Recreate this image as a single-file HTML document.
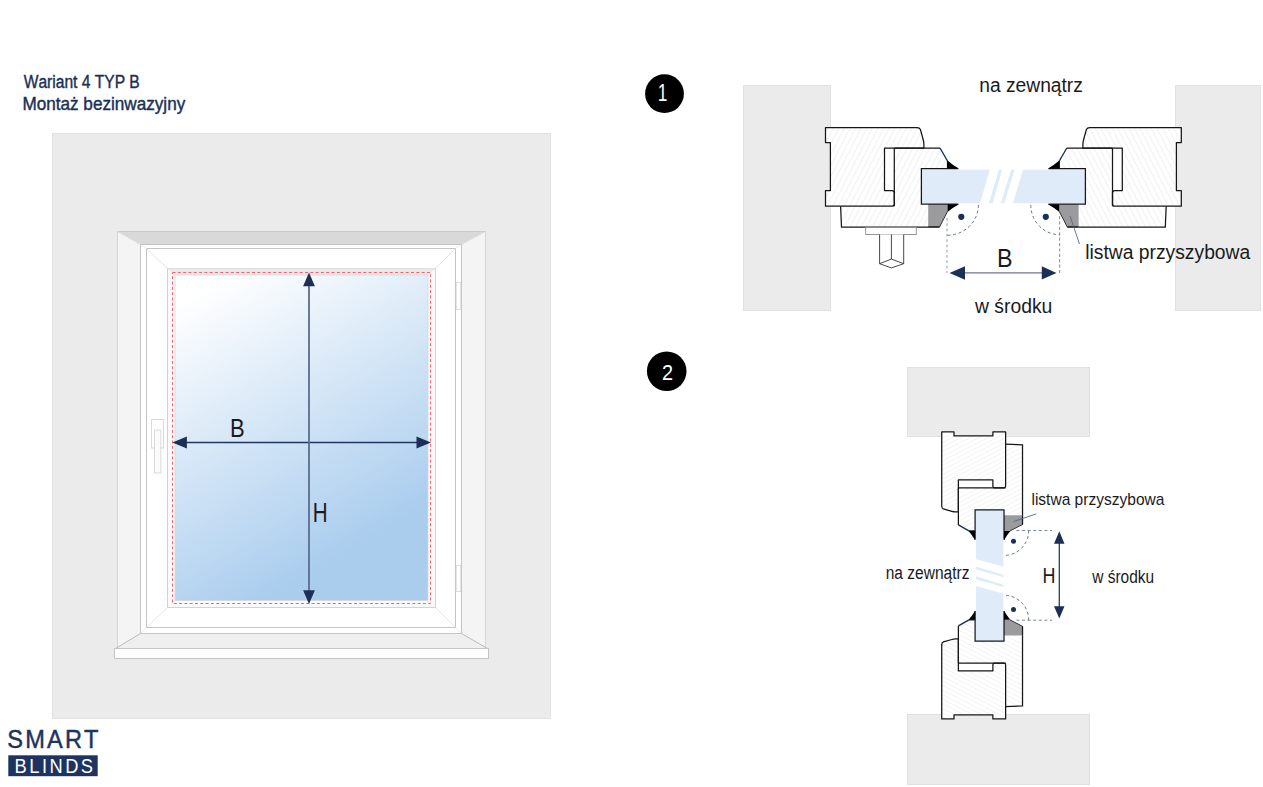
<!DOCTYPE html>
<html><head><meta charset="utf-8"><style>
html,body{margin:0;padding:0;background:#fff;}
body{width:1263px;height:787px;overflow:hidden;position:relative;}
svg{position:absolute;left:0;top:0;}
text{font-family:"Liberation Sans",sans-serif;}
.th{}
</style></head><body>
<svg width="1263" height="787" viewBox="0 0 1263 787">
<defs>
<pattern id="h1" patternUnits="userSpaceOnUse" width="5" height="10" patternTransform="rotate(27)">
<line x1="0.5" y1="0" x2="0.5" y2="10" stroke="#eeeeee" stroke-width="0.8"/>
</pattern>
<linearGradient id="glassg" x1="188.7" y1="297.6" x2="339.3" y2="554.4" gradientUnits="userSpaceOnUse">
<stop offset="0" stop-color="#ffffff"/>
<stop offset="1" stop-color="#aacdee"/>
</linearGradient>
</defs>

<text transform="translate(23.73,87.90) scale(0.8864,1)" x="0" y="0" font-size="17.59" font-family="Liberation Sans" fill="#1c2f55" style="font-kerning:none" stroke="#1c2f55" stroke-width="0.4">Wariant 4 TYP B</text>
<text transform="translate(22.39,109.70) scale(0.9748,1)" x="0" y="0" font-size="17.59" font-family="Liberation Sans" fill="#1c2f55" style="font-kerning:none" stroke="#1c2f55" stroke-width="0.4">Montaż bezinwazyjny</text>
<rect x="52.5" y="133.5" width="498" height="585" fill="#ebebeb" stroke="#e2e2e2" stroke-width="1"/>
<rect x="117.5" y="231.5" width="368" height="417" fill="#f4f4f4" stroke="#d6d6d6" stroke-width="1"/>
<path d="M117.5,231.5 H485.5 L461.5,244.5 H140.5 Z" fill="#d9d9d9"/>
<path d="M115.5,648.5 H487.5 L461.5,633.5 H140.5 Z" fill="#efefef"/>
<path d="M117.5,231.5 L140.5,244.5 M485.5,231.5 L461.5,244.5" stroke="#d4d4d4" stroke-width="0.5" fill="none"/>
<path d="M115.5,648.5 L140.5,633.5 M487.5,648.5 L461.5,633.5" stroke="#ababab" stroke-width="0.8" fill="none"/>
<path d="M117.5,231.5 H485.5" stroke="#cbcbcb" stroke-width="1"/>
<rect x="140.5" y="244.5" width="321" height="389" fill="#fff" stroke="#c4c4c4" stroke-width="1"/>
<rect x="146.5" y="248.5" width="309" height="379" fill="#fff" stroke="#c4c4c4" stroke-width="1"/>
<path d="M140.5,244.5 L146.5,248.5 M461.5,244.5 L455.5,248.5 M140.5,633.5 L146.5,627.5 M461.5,633.5 L455.5,627.5" stroke="#e0e0e0" stroke-width="0.6" fill="none"/>
<path d="M146.5,248.5 L167.5,268.5 M455.5,248.5 L435.5,268.5 M146.5,627.5 L167.5,607.5 M455.5,627.5 L435.5,607.5" stroke="#dedede" stroke-width="0.8" fill="none"/>
<rect x="167.5" y="268.5" width="268" height="339" fill="#fafafa" stroke="#d2d2d2" stroke-width="1"/>
<path d="M167.5,268.5 H435.5 L428,275 H175 Z" fill="#e9e9e9"/>
<rect x="175" y="275" width="253" height="325.5" fill="url(#glassg)" stroke="#d8d8d8" stroke-width="0.8"/>
<rect x="172.5" y="272.5" width="258" height="331" fill="none" stroke="#ef6570" stroke-width="1" stroke-dasharray="3 2.3"/>
<rect x="456.2" y="282.3" width="4.6" height="27.2" fill="#fff" stroke="#d4d4d4" stroke-width="0.8"/>
<rect x="456.2" y="565.4" width="4.6" height="26.2" fill="#fff" stroke="#d4d4d4" stroke-width="0.8"/>
<rect x="151.5" y="419.5" width="12" height="28.5" fill="none" stroke="#d8d8d8" stroke-width="0.9"/>
<rect x="154.5" y="430" width="6.3" height="43" fill="#fbfbfb" stroke="#d8d8d8" stroke-width="0.9"/>
<rect x="114.5" y="648.5" width="374" height="10" fill="#fff" stroke="#c4c4c4" stroke-width="1"/>
<line x1="185" y1="442.5" x2="418" y2="442.5" stroke="#22365e" stroke-width="1.6"/>
<path d="M172.4,442.5 L186.9,436.6 V448.4 Z" fill="#1b2f57"/>
<path d="M431,442.5 L416.5,436.6 V448.4 Z" fill="#1b2f57"/>
<line x1="309" y1="285" x2="309" y2="591" stroke="#5b6d8c" stroke-width="1.8"/>
<path d="M309,272.6 L303.1,286.3 H314.9 Z" fill="#1b2f57"/>
<path d="M309,604 L303.1,590.3 H314.9 Z" fill="#1b2f57"/>
<text transform="translate(230.10,436.70) scale(0.8265,1)" x="0" y="0" font-size="26.60" font-family="Liberation Sans" fill="#1a1a1a" style="font-kerning:none" >B</text>
<text transform="translate(312.81,521.60) scale(0.7615,1)" x="0" y="0" font-size="27.04" font-family="Liberation Sans" fill="#1a1a1a" style="font-kerning:none" >H</text>
<text transform="translate(7.23,748.00) scale(0.9500,1)" x="0" y="0" font-size="24.86" font-family="Liberation Sans" fill="#1d3461" style="font-kerning:none" stroke="#1d3461" stroke-width="0.45" letter-spacing="2.28">SMART</text>
<rect x="8.3" y="755.3" width="89.4" height="20.9" fill="#1d3461"/>
<text transform="translate(14.60,772.90) scale(0.9200,1)" x="0" y="0" font-size="19.91" font-family="Liberation Sans" fill="#fff" style="font-kerning:none"  letter-spacing="2.67">BLINDS</text>
<circle cx="664.5" cy="93.7" r="19.4" fill="#000"/>
<text transform="translate(657.85,101.10) scale(0.7171,1)" x="0" y="0" font-size="24.14" font-family="Liberation Mono" fill="#fff" style="font-kerning:none" >1</text>
<rect x="743.5" y="85.5" width="87" height="225" fill="#ebebeb" stroke="#e0e0e0" stroke-width="1"/>
<rect x="1175.5" y="85.5" width="85" height="225" fill="#ebebeb" stroke="#e0e0e0" stroke-width="1"/>
<g><path d="M825.5,127.5 H917 Q919.6,127.5 920.4,129.5 L923.3,140 Q923.9,142.3 923.9,144.5 V148 H884.5 V190.5 H892 Q894.3,190.5 894.3,193 V204 Q894.3,206.2 892,206.2 H825.5 V190.5 H830.4 V142.6 H825.5 Z" fill="#fff"/>
<path d="M825.5,127.5 H917 Q919.6,127.5 920.4,129.5 L923.3,140 Q923.9,142.3 923.9,144.5 V148 H884.5 V190.5 H892 Q894.3,190.5 894.3,193 V204 Q894.3,206.2 892,206.2 H825.5 V190.5 H830.4 V142.6 H825.5 Z" fill="url(#h1)"/>
<path d="M894.3,148 H940 L947.5,161 V168.6 H921.4 V204.2 H928.2 V227 H841.5 L840.6,206.2 H894.3 Z" fill="#fff"/>
<path d="M894.3,148 H940 L947.5,161 V168.6 H921.4 V204.2 H928.2 V227 H841.5 L840.6,206.2 H894.3 Z" fill="url(#h1)"/>
<path d="M825.5,127.5 H917 Q919.6,127.5 920.4,129.5 L923.3,140 Q923.9,142.3 923.9,144.5 V148 H884.5 V190.5 H892 Q894.3,190.5 894.3,193 V204 Q894.3,206.2 892,206.2 H825.5 V190.5 H830.4 V142.6 H825.5 Z" fill="none" stroke="#161616" stroke-width="1.25" stroke-linejoin="round" vector-effect="non-scaling-stroke"/>
<path d="M894.3,148 H940 M947.5,161 V168.6 M928.2,227 H841.5 L840.6,206.2 M894.3,148 V206.2" fill="none" stroke="#161616" stroke-width="1.25" vector-effect="non-scaling-stroke"/>
<path d="M940,148 L947.5,161" stroke="#1b2f57" stroke-width="1.4" fill="none" vector-effect="non-scaling-stroke"/>
<path d="M928.2,204.2 H947.5 V211.5 L939.5,227 H928.2 Z" fill="#9b9b9d"/>
<path d="M947.5,211.5 L939.5,227 H928.2" fill="none" stroke="#333" stroke-width="1" vector-effect="non-scaling-stroke"/>
<path d="M928.2,227 H939.5" fill="none" stroke="#161616" stroke-width="1.25" vector-effect="non-scaling-stroke"/>
<rect x="921.4" y="169.7" width="82" height="33.5" fill="#dfebf8"/>
<path d="M958.3,168.6 H921.4 V204.2 H958.3" fill="none" stroke="#161616" stroke-width="1.25" vector-effect="non-scaling-stroke"/>
<path d="M947.5,160.5 Q952.6,165 958.8,168.6 H947.5 Z" fill="#000"/>
<path d="M947.5,204.2 H959 Q952.6,207.6 947.5,212 Z" fill="#000"/>
<rect x="865.7" y="227.6" width="50.6" height="6.9" fill="#fff" stroke="#8a8a8a" stroke-width="0.9"/>
<path d="M879.6,234.5 V263.7 L891.4,259.1 L903.7,263.7 V234.5 M891.4,234.5 V259.1 M879.6,263.7 L891.4,267.9 L903.7,263.7" fill="#fff" stroke="#333" stroke-width="0.9" stroke-linejoin="round"/></g>
<g transform="matrix(-1,0,0,1,2006.8,0)"><path d="M825.5,127.5 H917 Q919.6,127.5 920.4,129.5 L923.3,140 Q923.9,142.3 923.9,144.5 V148 H884.5 V190.5 H892 Q894.3,190.5 894.3,193 V204 Q894.3,206.2 892,206.2 H825.5 V190.5 H830.4 V142.6 H825.5 Z" fill="#fff"/>
<path d="M825.5,127.5 H917 Q919.6,127.5 920.4,129.5 L923.3,140 Q923.9,142.3 923.9,144.5 V148 H884.5 V190.5 H892 Q894.3,190.5 894.3,193 V204 Q894.3,206.2 892,206.2 H825.5 V190.5 H830.4 V142.6 H825.5 Z" fill="url(#h1)"/>
<path d="M894.3,148 H940 L947.5,161 V168.6 H921.4 V204.2 H928.2 V227 H841.5 L840.6,206.2 H894.3 Z" fill="#fff"/>
<path d="M894.3,148 H940 L947.5,161 V168.6 H921.4 V204.2 H928.2 V227 H841.5 L840.6,206.2 H894.3 Z" fill="url(#h1)"/>
<path d="M825.5,127.5 H917 Q919.6,127.5 920.4,129.5 L923.3,140 Q923.9,142.3 923.9,144.5 V148 H884.5 V190.5 H892 Q894.3,190.5 894.3,193 V204 Q894.3,206.2 892,206.2 H825.5 V190.5 H830.4 V142.6 H825.5 Z" fill="none" stroke="#161616" stroke-width="1.25" stroke-linejoin="round" vector-effect="non-scaling-stroke"/>
<path d="M894.3,148 H940 M947.5,161 V168.6 M928.2,227 H841.5 L840.6,206.2 M894.3,148 V206.2" fill="none" stroke="#161616" stroke-width="1.25" vector-effect="non-scaling-stroke"/>
<path d="M940,148 L947.5,161" stroke="#1b2f57" stroke-width="1.4" fill="none" vector-effect="non-scaling-stroke"/>
<path d="M928.2,204.2 H947.5 V211.5 L939.5,227 H928.2 Z" fill="#9b9b9d"/>
<path d="M947.5,211.5 L939.5,227 H928.2" fill="none" stroke="#333" stroke-width="1" vector-effect="non-scaling-stroke"/>
<path d="M928.2,227 H939.5" fill="none" stroke="#161616" stroke-width="1.25" vector-effect="non-scaling-stroke"/>
<rect x="921.4" y="169.7" width="82" height="33.5" fill="#dfebf8"/>
<path d="M958.3,168.6 H921.4 V204.2 H958.3" fill="none" stroke="#161616" stroke-width="1.25" vector-effect="non-scaling-stroke"/>
<path d="M947.5,160.5 Q952.6,165 958.8,168.6 H947.5 Z" fill="#000"/>
<path d="M947.5,204.2 H959 Q952.6,207.6 947.5,212 Z" fill="#000"/></g>
<path d="M990,169 L999.1,169 L988.6,204 L979.9,204 Z M1002.3,169 L1011.4,169 L1000.5,204 L992.5,204 Z M1014.9,169 L1023.2,169 L1012.8,204 L1004,204 Z" fill="#fff"/>
<path d="M947,218 V273" stroke="#b9c0cd" stroke-width="1.6" stroke-dasharray="2.7 2.6" fill="none"/>
<path d="M1059.6,216 V273" stroke="#8c95ab" stroke-width="1.1" stroke-dasharray="3.2 2.2" fill="none"/>
<path d="M978.4,205 A31.4,30.3 0 0 1 947,235.3 M1030.8,205 A28.6,29.6 0 0 0 1059.4,234.6" stroke="#56648a" stroke-width="0.9" stroke-dasharray="3 2.6" fill="none"/>
<circle cx="961.3" cy="216.8" r="3.1" fill="#1b2f57"/><circle cx="1045.8" cy="216.8" r="3.1" fill="#1b2f57"/>
<line x1="960" y1="272.9" x2="1045" y2="272.9" stroke="#6b7693" stroke-width="1.4"/>
<path d="M949.5,272.9 L965,266.2 V279.7 Z M1056.5,272.9 L1041.8,266.3 V279.5 Z" fill="#1b2f57"/>
<path d="M1070,216 L1079.5,244" stroke="#56678a" stroke-width="0.9" fill="none"/>
<text transform="translate(979.22,91.60) scale(0.9241,1)" x="0" y="0" font-size="20.82" font-family="Liberation Sans" fill="#1a1a1a" style="font-kerning:none" >na zewnątrz</text>
<text transform="translate(975.03,312.60) scale(0.9728,1)" x="0" y="0" font-size="19.87" font-family="Liberation Sans" fill="#1a1a1a" style="font-kerning:none" >w środku</text>
<text transform="translate(996.89,266.60) scale(0.8759,1)" x="0" y="0" font-size="26.60" font-family="Liberation Sans" fill="#1a1a1a" style="font-kerning:none" >B</text>
<text transform="translate(1085.20,258.70) scale(0.9575,1)" x="0" y="0" font-size="20.15" font-family="Liberation Sans" fill="#1a1a1a" style="font-kerning:none" >listwa przyszybowa</text>
<circle cx="666.7" cy="371.2" r="19.8" fill="#000"/>
<text transform="translate(662.00,379.80) scale(0.8772,1)" x="0" y="0" font-size="22.77" font-family="Liberation Sans" fill="#fff" style="font-kerning:none" >2</text>
<rect x="907.5" y="367.5" width="182" height="69" fill="#ebebeb" stroke="#e0e0e0" stroke-width="1"/>
<rect x="907.5" y="714.5" width="182" height="70" fill="#ebebeb" stroke="#e0e0e0" stroke-width="1"/>
<rect x="976" y="510" width="27.2" height="131" fill="#dfebf8"/>
<g transform="matrix(0,0.812,0.812,0,838.2,-238.4)"><path d="M825.5,127.5 H917 Q919.6,127.5 920.4,129.5 L923.3,140 Q923.9,142.3 923.9,144.5 V148 H884.5 V190.5 H892 Q894.3,190.5 894.3,193 V204 Q894.3,206.2 892,206.2 H825.5 V190.5 H830.4 V142.6 H825.5 Z" fill="#fff"/>
<path d="M825.5,127.5 H917 Q919.6,127.5 920.4,129.5 L923.3,140 Q923.9,142.3 923.9,144.5 V148 H884.5 V190.5 H892 Q894.3,190.5 894.3,193 V204 Q894.3,206.2 892,206.2 H825.5 V190.5 H830.4 V142.6 H825.5 Z" fill="url(#h1)"/>
<path d="M894.3,148 H940 L947.5,161 V168.6 H921.4 V204.2 H928.2 V227 H841.5 L840.6,206.2 H894.3 Z" fill="#fff"/>
<path d="M894.3,148 H940 L947.5,161 V168.6 H921.4 V204.2 H928.2 V227 H841.5 L840.6,206.2 H894.3 Z" fill="url(#h1)"/>
<path d="M825.5,127.5 H917 Q919.6,127.5 920.4,129.5 L923.3,140 Q923.9,142.3 923.9,144.5 V148 H884.5 V190.5 H892 Q894.3,190.5 894.3,193 V204 Q894.3,206.2 892,206.2 H825.5 V190.5 H830.4 V142.6 H825.5 Z" fill="none" stroke="#161616" stroke-width="1.25" stroke-linejoin="round" vector-effect="non-scaling-stroke"/>
<path d="M894.3,148 H940 M947.5,161 V168.6 M928.2,227 H841.5 L840.6,206.2 M894.3,148 V206.2" fill="none" stroke="#161616" stroke-width="1.25" vector-effect="non-scaling-stroke"/>
<path d="M940,148 L947.5,161" stroke="#1b2f57" stroke-width="1.4" fill="none" vector-effect="non-scaling-stroke"/>
<path d="M928.2,204.2 H947.5 V211.5 L939.5,227 H928.2 Z" fill="#9b9b9d"/>
<path d="M947.5,211.5 L939.5,227 H928.2" fill="none" stroke="#333" stroke-width="1" vector-effect="non-scaling-stroke"/>
<path d="M928.2,227 H939.5" fill="none" stroke="#161616" stroke-width="1.25" vector-effect="non-scaling-stroke"/>
<rect x="921.4" y="169.7" width="82" height="33.5" fill="#dfebf8"/>
<path d="M958.3,168.6 H921.4 V204.2 H958.3" fill="none" stroke="#161616" stroke-width="1.25" vector-effect="non-scaling-stroke"/>
<path d="M947.5,160.5 Q952.6,165 958.8,168.6 H947.5 Z" fill="#000"/>
<path d="M947.5,204.2 H959 Q952.6,207.6 947.5,212 Z" fill="#000"/></g>
<g transform="matrix(0,-0.812,0.812,0,838.2,1389.2)"><path d="M825.5,127.5 H917 Q919.6,127.5 920.4,129.5 L923.3,140 Q923.9,142.3 923.9,144.5 V148 H884.5 V190.5 H892 Q894.3,190.5 894.3,193 V204 Q894.3,206.2 892,206.2 H825.5 V190.5 H830.4 V142.6 H825.5 Z" fill="#fff"/>
<path d="M825.5,127.5 H917 Q919.6,127.5 920.4,129.5 L923.3,140 Q923.9,142.3 923.9,144.5 V148 H884.5 V190.5 H892 Q894.3,190.5 894.3,193 V204 Q894.3,206.2 892,206.2 H825.5 V190.5 H830.4 V142.6 H825.5 Z" fill="url(#h1)"/>
<path d="M894.3,148 H940 L947.5,161 V168.6 H921.4 V204.2 H928.2 V227 H841.5 L840.6,206.2 H894.3 Z" fill="#fff"/>
<path d="M894.3,148 H940 L947.5,161 V168.6 H921.4 V204.2 H928.2 V227 H841.5 L840.6,206.2 H894.3 Z" fill="url(#h1)"/>
<path d="M825.5,127.5 H917 Q919.6,127.5 920.4,129.5 L923.3,140 Q923.9,142.3 923.9,144.5 V148 H884.5 V190.5 H892 Q894.3,190.5 894.3,193 V204 Q894.3,206.2 892,206.2 H825.5 V190.5 H830.4 V142.6 H825.5 Z" fill="none" stroke="#161616" stroke-width="1.25" stroke-linejoin="round" vector-effect="non-scaling-stroke"/>
<path d="M894.3,148 H940 M947.5,161 V168.6 M928.2,227 H841.5 L840.6,206.2 M894.3,148 V206.2" fill="none" stroke="#161616" stroke-width="1.25" vector-effect="non-scaling-stroke"/>
<path d="M940,148 L947.5,161" stroke="#1b2f57" stroke-width="1.4" fill="none" vector-effect="non-scaling-stroke"/>
<path d="M928.2,204.2 H947.5 V211.5 L939.5,227 H928.2 Z" fill="#9b9b9d"/>
<path d="M947.5,211.5 L939.5,227 H928.2" fill="none" stroke="#333" stroke-width="1" vector-effect="non-scaling-stroke"/>
<path d="M928.2,227 H939.5" fill="none" stroke="#161616" stroke-width="1.25" vector-effect="non-scaling-stroke"/>
<rect x="921.4" y="169.7" width="82" height="33.5" fill="#dfebf8"/>
<path d="M958.3,168.6 H921.4 V204.2 H958.3" fill="none" stroke="#161616" stroke-width="1.25" vector-effect="non-scaling-stroke"/>
<path d="M947.5,160.5 Q952.6,165 958.8,168.6 H947.5 Z" fill="#000"/>
<path d="M947.5,204.2 H959 Q952.6,207.6 947.5,212 Z" fill="#000"/></g>
<path d="M975,559.1 L1004,566.7 V575.1 L975,566.2 Z M975,568.9 L1004,577.3 V584.9 L975,576 Z M975,579.1 L1004,587.1 V593.8 L975,585.8 Z" fill="#fff"/>
<path d="M1016.4,530.5 H1052 M1016.4,620.2 H1052" stroke="#7b86a0" stroke-width="1" stroke-dasharray="3 2.6" fill="none"/>
<path d="M1028.6,530.5 A24.5,24.5 0 0 1 1004.2,555.4 M1028.6,620.2 A24.5,24.5 0 0 0 1004.2,595.3" stroke="#56648a" stroke-width="0.9" stroke-dasharray="3 2.6" fill="none"/>
<circle cx="1013.5" cy="541.3" r="2.5" fill="#1b2f57"/><circle cx="1013.5" cy="609.4" r="2.5" fill="#1b2f57"/>
<line x1="1059.3" y1="542" x2="1059.3" y2="608" stroke="#2a3e66" stroke-width="1.3"/>
<path d="M1059.3,531.2 L1054,543.8 H1064.5 Z M1059.3,618.5 L1054,606.2 H1064.5 Z" fill="#1b2f57"/>
<path d="M1013.7,521.5 L1036.3,513.9" stroke="#56678a" stroke-width="0.9" fill="none"/>
<text transform="translate(1031.45,504.90) scale(0.9889,1)" x="0" y="0" font-size="15.73" font-family="Liberation Sans" fill="#1a1a1a" style="font-kerning:none" >listwa przyszybowa</text>
<text transform="translate(885.67,579.00) scale(0.8644,1)" x="0" y="0" font-size="17.98" font-family="Liberation Sans" fill="#1a1a1a" style="font-kerning:none" >na zewnątrz</text>
<text transform="translate(1092.22,582.90) scale(0.8442,1)" x="0" y="0" font-size="18.35" font-family="Liberation Sans" fill="#1a1a1a" style="font-kerning:none" >w środku</text>
<text transform="translate(1042.53,582.90) scale(0.7998,1)" x="0" y="0" font-size="22.38" font-family="Liberation Sans" fill="#1a1a1a" style="font-kerning:none" >H</text>
</svg>
</body></html>
